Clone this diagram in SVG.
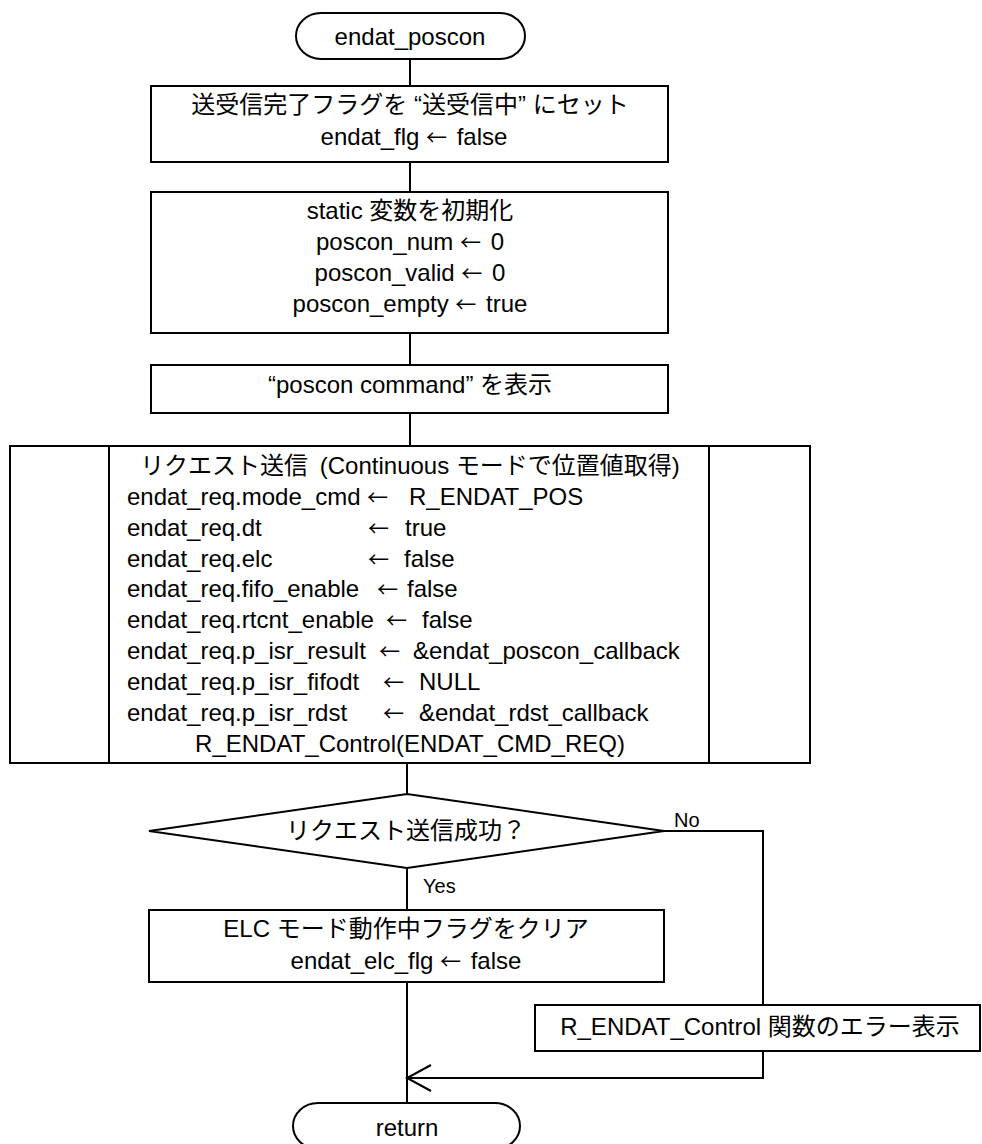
<svg xmlns="http://www.w3.org/2000/svg" width="982" height="1144" viewBox="0 0 982 1144">
<style>
.t{font-family:"Liberation Sans","Noto Sans CJK JP",sans-serif;font-size:24px;fill:#000}
.m{text-anchor:middle}
.s{font-size:20px}
.ar{font-family:"Noto Sans CJK JP",sans-serif;font-size:21px}
.box{fill:#fff;stroke:#000;stroke-width:2}
.ln{fill:none;stroke:#000;stroke-width:2}
</style>
<rect width="982" height="1144" fill="#fff"/>
<g id="connectors">
<line class="ln" x1="410" y1="59" x2="410" y2="86"/>
<line class="ln" x1="410" y1="162" x2="410" y2="192"/>
<line class="ln" x1="410" y1="333" x2="410" y2="365"/>
<line class="ln" x1="410" y1="413" x2="410" y2="446"/>
<line class="ln" x1="407" y1="763" x2="407" y2="794"/>
<line class="ln" x1="407" y1="868" x2="407" y2="910"/>
<line class="ln" x1="407" y1="982" x2="407" y2="1103"/>
<polyline class="ln" points="664,831 763,831 763,1005"/>
<polyline class="ln" points="763,1051 763,1078 407,1078"/>
<polyline class="ln" points="431,1065 407,1078 431,1091"/>
<text class="t s" x="674" y="827">No</text>
<text class="t s" x="423" y="893">Yes</text>
</g>
<g id="start">
<path class="box" d="M321,13 H500 A25 23 0 0 1 500,59 H321 A25 23 0 0 1 321,13 Z"/>
<text class="t m" x="410" y="45">endat_poscon</text>
</g>
<g id="set-flag">
<rect class="box" x="151" y="86" width="517" height="76"/>
<text class="t m" x="410" y="113">送受信完了フラグを “送受信中” にセット</text>
<text class="t m" x="414" y="145">endat_flg <tspan class="ar">←</tspan> <tspan dx="3">false</tspan></text>
</g>
<g id="init-static">
<rect class="box" x="151" y="192" width="517" height="141"/>
<text class="t m" x="410" y="219">static 変数を初期化</text>
<text class="t m" x="410" y="250">poscon_num <tspan class="ar">←</tspan> <tspan dx="3">0</tspan></text>
<text class="t m" x="410" y="281">poscon_valid <tspan class="ar">←</tspan> <tspan dx="3">0</tspan></text>
<text class="t m" x="410" y="312">poscon_empty <tspan class="ar">←</tspan> <tspan dx="3">true</tspan></text>
</g>
<g id="show-cmd">
<rect class="box" x="151" y="365" width="517" height="48"/>
<text class="t m" x="410" y="393">“poscon command” を表示</text>
</g>
<g id="request">
<rect class="box" x="10" y="446" width="800" height="317"/>
<line class="ln" x1="109" y1="446" x2="109" y2="763"/>
<line class="ln" x1="709" y1="446" x2="709" y2="763"/>
<text class="t m" x="410" y="474">リクエスト送信 <tspan dx="5">(Continuous モードで位置値取得)</tspan></text>
<text class="t" y="505"><tspan x="127">endat_req.mode_cmd</tspan><tspan class="ar" x="367">←</tspan><tspan x="409">R_ENDAT_POS</tspan></text>
<text class="t" y="536"><tspan x="127">endat_req.dt</tspan><tspan class="ar" x="368">←</tspan><tspan x="405">true</tspan></text>
<text class="t" y="567"><tspan x="127">endat_req.elc</tspan><tspan class="ar" x="368">←</tspan><tspan x="404">false</tspan></text>
<text class="t" y="597"><tspan x="127">endat_req.fifo_enable</tspan><tspan class="ar" x="377">←</tspan><tspan x="407">false</tspan></text>
<text class="t" y="628"><tspan x="127">endat_req.rtcnt_enable</tspan><tspan class="ar" x="386">←</tspan><tspan x="422">false</tspan></text>
<text class="t" y="659"><tspan x="127">endat_req.p_isr_result</tspan><tspan class="ar" x="379">←</tspan><tspan x="413">&amp;endat_poscon_callback</tspan></text>
<text class="t" y="690"><tspan x="127">endat_req.p_isr_fifodt</tspan><tspan class="ar" x="383">←</tspan><tspan x="419">NULL</tspan></text>
<text class="t" y="721"><tspan x="127">endat_req.p_isr_rdst</tspan><tspan class="ar" x="383">←</tspan><tspan x="419">&amp;endat_rdst_callback</tspan></text>
<text class="t m" x="410" y="752">R_ENDAT_Control(ENDAT_CMD_REQ)</text>
</g>
<g id="decision">
<polygon class="box" points="149,831 407,794 664,831 407,868"/>
<text class="t m" x="406" y="839">リクエスト送信成功？</text>
</g>
<g id="clear-elc">
<rect class="box" x="149" y="910" width="515" height="72"/>
<text class="t m" x="406" y="937">ELC モード動作中フラグをクリア</text>
<text class="t m" x="406" y="969">endat_elc_flg <tspan class="ar">←</tspan> <tspan dx="3">false</tspan></text>
</g>
<g id="error">
<rect class="box" x="535" y="1005" width="445" height="46"/>
<text class="t m" x="760" y="1035">R_ENDAT_Control 関数のエラー表示</text>
</g>
<g id="return">
<path class="box" d="M318,1103 H495 A25 23 0 0 1 495,1149 H318 A25 23 0 0 1 318,1103 Z"/>
<text class="t m" x="407" y="1136">return</text>
</g>
</svg>
